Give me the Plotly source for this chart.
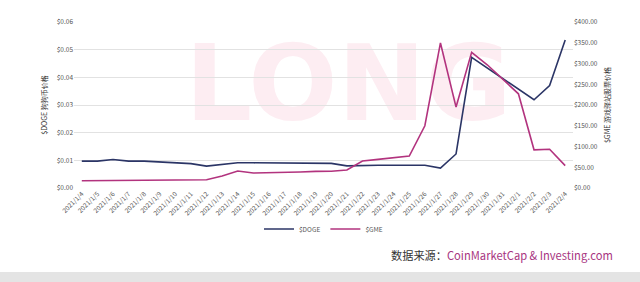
import plotly.graph_objects as go

dates = ["2021/1/4", "2021/1/5", "2021/1/6", "2021/1/7", "2021/1/8", "2021/1/9", "2021/1/10",
         "2021/1/11", "2021/1/12", "2021/1/13", "2021/1/14", "2021/1/15", "2021/1/16", "2021/1/17",
         "2021/1/18", "2021/1/19", "2021/1/20", "2021/1/21", "2021/1/22", "2021/1/23", "2021/1/24",
         "2021/1/25", "2021/1/26", "2021/1/27", "2021/1/28", "2021/1/29", "2021/1/30", "2021/1/31",
         "2021/2/1", "2021/2/2", "2021/2/3", "2021/2/4"]

doge = [0.0097, 0.0097, 0.0103, 0.0097, 0.0097, 0.0094, 0.0091,
        0.0088, 0.0079, 0.0085, 0.0091, 0.0091, 0.0091, 0.0090,
        0.0090, 0.0090, 0.0089, 0.0080, 0.0082, 0.0082, 0.0082,
        0.0082, 0.0082, 0.0072, 0.0123, 0.0472, 0.0434, 0.0396,
        0.0358, 0.0319, 0.0370, 0.0535]

gme = [17.5, 17.6, 18.3, 18.1, 17.8, 18.5, 19.2,
       19.8, 20.0, 29.0, 41.0, 36.0, 36.5, 37.5,
       38.5, 40.0, 40.5, 43.5, 65.0, 69.0, 72.5,
       77.0, 150.0, 349.5, 195.0, 327.0, 297.0, 262.0,
       227.0, 92.0, 93.5, 54.0]

DOGE_C = "#2b3566"
GME_C = "#b2337e"
TICK_C = "#555555"

fig = go.Figure()
fig.add_trace(go.Scatter(x=dates, y=doge, name="$DOGE", mode="lines",
                         line=dict(color=DOGE_C, width=1.6), yaxis="y"))
fig.add_trace(go.Scatter(x=dates, y=gme, name="$GME", mode="lines",
                         line=dict(color=GME_C, width=1.6), yaxis="y2"))

fig.update_layout(
    width=640, height=282,
    margin=dict(l=74, r=67, t=22, b=94),
    paper_bgcolor="white", plot_bgcolor="rgba(0,0,0,0)",
    font=dict(family="Noto Sans CJK SC, Noto Sans, sans-serif", color=TICK_C, size=7),
    xaxis=dict(type="category", tickangle=-45, showgrid=False, ticks="",
               tickfont=dict(size=6.5, color=TICK_C), range=[-0.5, 31.5], showline=False),
    yaxis=dict(range=[0, 0.06], dtick=0.01, tickformat="$.2f", showgrid=True,
               gridcolor="#e2e2e2", gridwidth=1, zeroline=False, ticks="",
               tickfont=dict(size=6.5, color=TICK_C),
               title=dict(text="$DOGE 狗狗币价格", font=dict(size=7, color="#333333"), standoff=8)),
    yaxis2=dict(range=[0, 400], dtick=50, tickformat="$.2f", overlaying="y", side="right",
                showgrid=False, zeroline=False, ticks="",
                tickfont=dict(size=6.5, color=TICK_C),
                title=dict(text="$GME 游戏驿站股票价格", font=dict(size=7, color="#333333"), standoff=8)),
    legend=dict(orientation="h", x=0.5, xanchor="center", y=-0.247, yanchor="middle",
                font=dict(size=6.5, color=TICK_C), bgcolor="rgba(0,0,0,0)",
                itemwidth=30, tracegroupgap=0),
    showlegend=True,
)

# watermark (real text via shape label, drawn below the data)
fig.add_shape(type="rect", xref="paper", yref="paper", x0=0.05, x1=1.05, y0=0.35, y1=1.0,
              line=dict(width=0), fillcolor="rgba(0,0,0,0)", layer="below",
              label=dict(text="LONG", font=dict(size=105, color="#fdedf2", family="DejaVu Sans", weight="bold"),
                         textposition="middle center"))

# bottom grey band
fig.add_shape(type="rect", xref="paper", yref="paper", x0=-0.16, x1=1.15, y0=-0.506, y1=-0.58,
              line=dict(width=0), fillcolor="#e4e4e4", layer="below")

fig.add_annotation(xref="paper", yref="paper", x=0.858, y=-0.404, showarrow=False,
                   xanchor="center", yanchor="middle",
                   text="<span style='color:#333333'>数据来源：</span><span style='color:#a8357f'>CoinMarketCap &amp; Investing.com</span>",
                   font=dict(size=11.2, family="Noto Sans CJK SC, Noto Sans, sans-serif"))

fig.write_html("out.html")
